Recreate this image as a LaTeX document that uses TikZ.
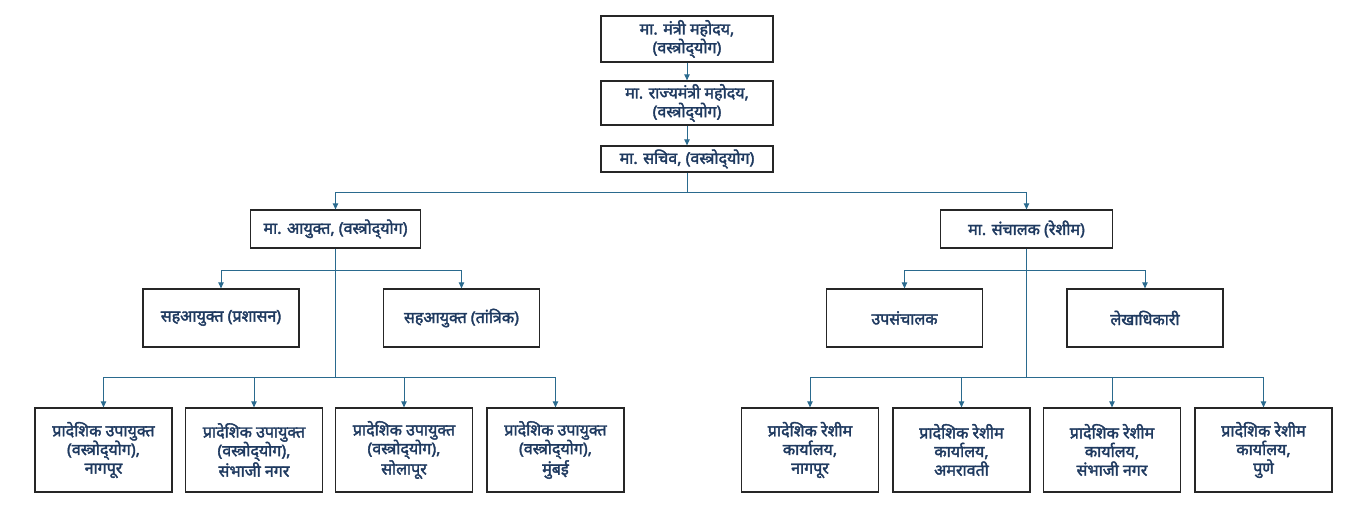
\documentclass[tikz,border=0pt]{standalone}
\usepackage{fontspec}
\newfontfamily\deva[Script=Devanagari, FakeBold=2.2]{Noto Sans}
\usepackage{xcolor}
\usepackage{tikz}
\usetikzlibrary{arrows.meta}
\definecolor{navy}{HTML}{1F3A60}
\definecolor{linkblue}{HTML}{2A6A8E}
\newcommand{\vastra}{(वस्त्रोद्^^^^200cयोग)}
\tikzstyle{box} = [draw=black!85, line width=0.9pt, fill=white, text=navy, align=center, inner sep=1pt, font=\deva\fontsize{12}{14}\selectfont]
\tikzstyle{link} = [draw=linkblue, line width=0.75pt]
\tikzstyle{arrow} = [link, -{Triangle[length=4.5pt,width=4pt]}]

\begin{document}
\begin{tikzpicture}[x=0.75pt, y=-0.75pt]
    \useasboundingbox (0,0) rectangle (1364,519);

    % top of the chart
    \node[box, minimum width=129pt, minimum height=34.5pt] (mantri) at (687,39) {मा. मंत्री महोदय,\\\vastra};
    \node[box, minimum width=129pt, minimum height=33pt] (rajya) at (687,103) {मा. राज्यमंत्री महोदय,\\\vastra};
    \node[box, minimum width=129pt, minimum height=19.5pt] (sachiv) at (687,159) {मा. सचिव, \vastra};
    \draw[arrow] (mantri) -- (rajya);
    \draw[arrow] (rajya) -- (sachiv);

    % two heads
    \node[box, minimum width=128pt, minimum height=28.5pt] (ayukt) at (335.5,229) {मा. आयुक्त, \vastra};
    \node[box, minimum width=129pt, minimum height=28.5pt] (sanchalak) at (1026.5,229) {मा. संचालक (रेशीम)};
    \coordinate (jtop) at (687,192);
    \draw[link] (sachiv) -- (jtop);
    \draw[arrow] (jtop) -| (ayukt);
    \draw[arrow] (jtop) -| (sanchalak);

    % left side
    \node[box, minimum width=117pt, minimum height=43.5pt] (sahP) at (221,318) {सहआयुक्त (प्रशासन)};
    \node[box, minimum width=117pt, minimum height=43.5pt] (sahT) at (461.5,318) {सहआयुक्त (तांत्रिक)};
    \node[box, minimum width=102.75pt, minimum height=63pt] (upNag) at (103.5,450) {प्रादेशिक उपायुक्त\\\vastra,\\नागपूर};
    \node[box, minimum width=102.75pt, minimum height=63pt] (upSam) at (254,450) {प्रादेशिक उपायुक्त\\\vastra,\\संभाजी नगर};
    \node[box, minimum width=102.75pt, minimum height=63pt] (upSol) at (404,450) {प्रादेशिक उपायुक्त\\\vastra,\\सोलापूर};
    \node[box, minimum width=102.75pt, minimum height=63pt] (upMum) at (555.5,450) {प्रादेशिक उपायुक्त\\\vastra,\\मुंबई};
    \coordinate (jsah) at (335.5,270);
    \coordinate (jup) at (335.5,377);
    \draw[link] (ayukt) -- (jup);
    \draw[arrow] (jsah) -| (sahP);
    \draw[arrow] (jsah) -| (sahT);
    \foreach \n in {upNag,upSam,upSol,upMum}
        \draw[arrow] (jup) -| (\n);

    % right side
    \node[box, minimum width=117pt, minimum height=43.5pt] (upsan) at (904.5,318) {उपसंचालक};
    \node[box, minimum width=117pt, minimum height=43.5pt] (lekha) at (1145,318) {लेखाधिकारी};
    \node[box, minimum width=102.75pt, minimum height=63pt] (reNag) at (810,450) {प्रादेशिक रेशीम\\कार्यालय,\\नागपूर};
    \node[box, minimum width=102.75pt, minimum height=63pt] (reAmr) at (961.5,450) {प्रादेशिक रेशीम\\कार्यालय,\\अमरावती};
    \node[box, minimum width=102.75pt, minimum height=63pt] (reSam) at (1112,450) {प्रादेशिक रेशीम\\कार्यालय,\\संभाजी नगर};
    \node[box, minimum width=102.75pt, minimum height=63pt] (rePun) at (1263.5,450) {प्रादेशिक रेशीम\\कार्यालय,\\पुणे};
    \coordinate (jup2) at (1026.5,270);
    \coordinate (jre) at (1026.5,377);
    \draw[link] (sanchalak) -- (jre);
    \draw[arrow] (jup2) -| (upsan);
    \draw[arrow] (jup2) -| (lekha);
    \foreach \n in {reNag,reAmr,reSam,rePun}
        \draw[arrow] (jre) -| (\n);
\end{tikzpicture}
\end{document}
